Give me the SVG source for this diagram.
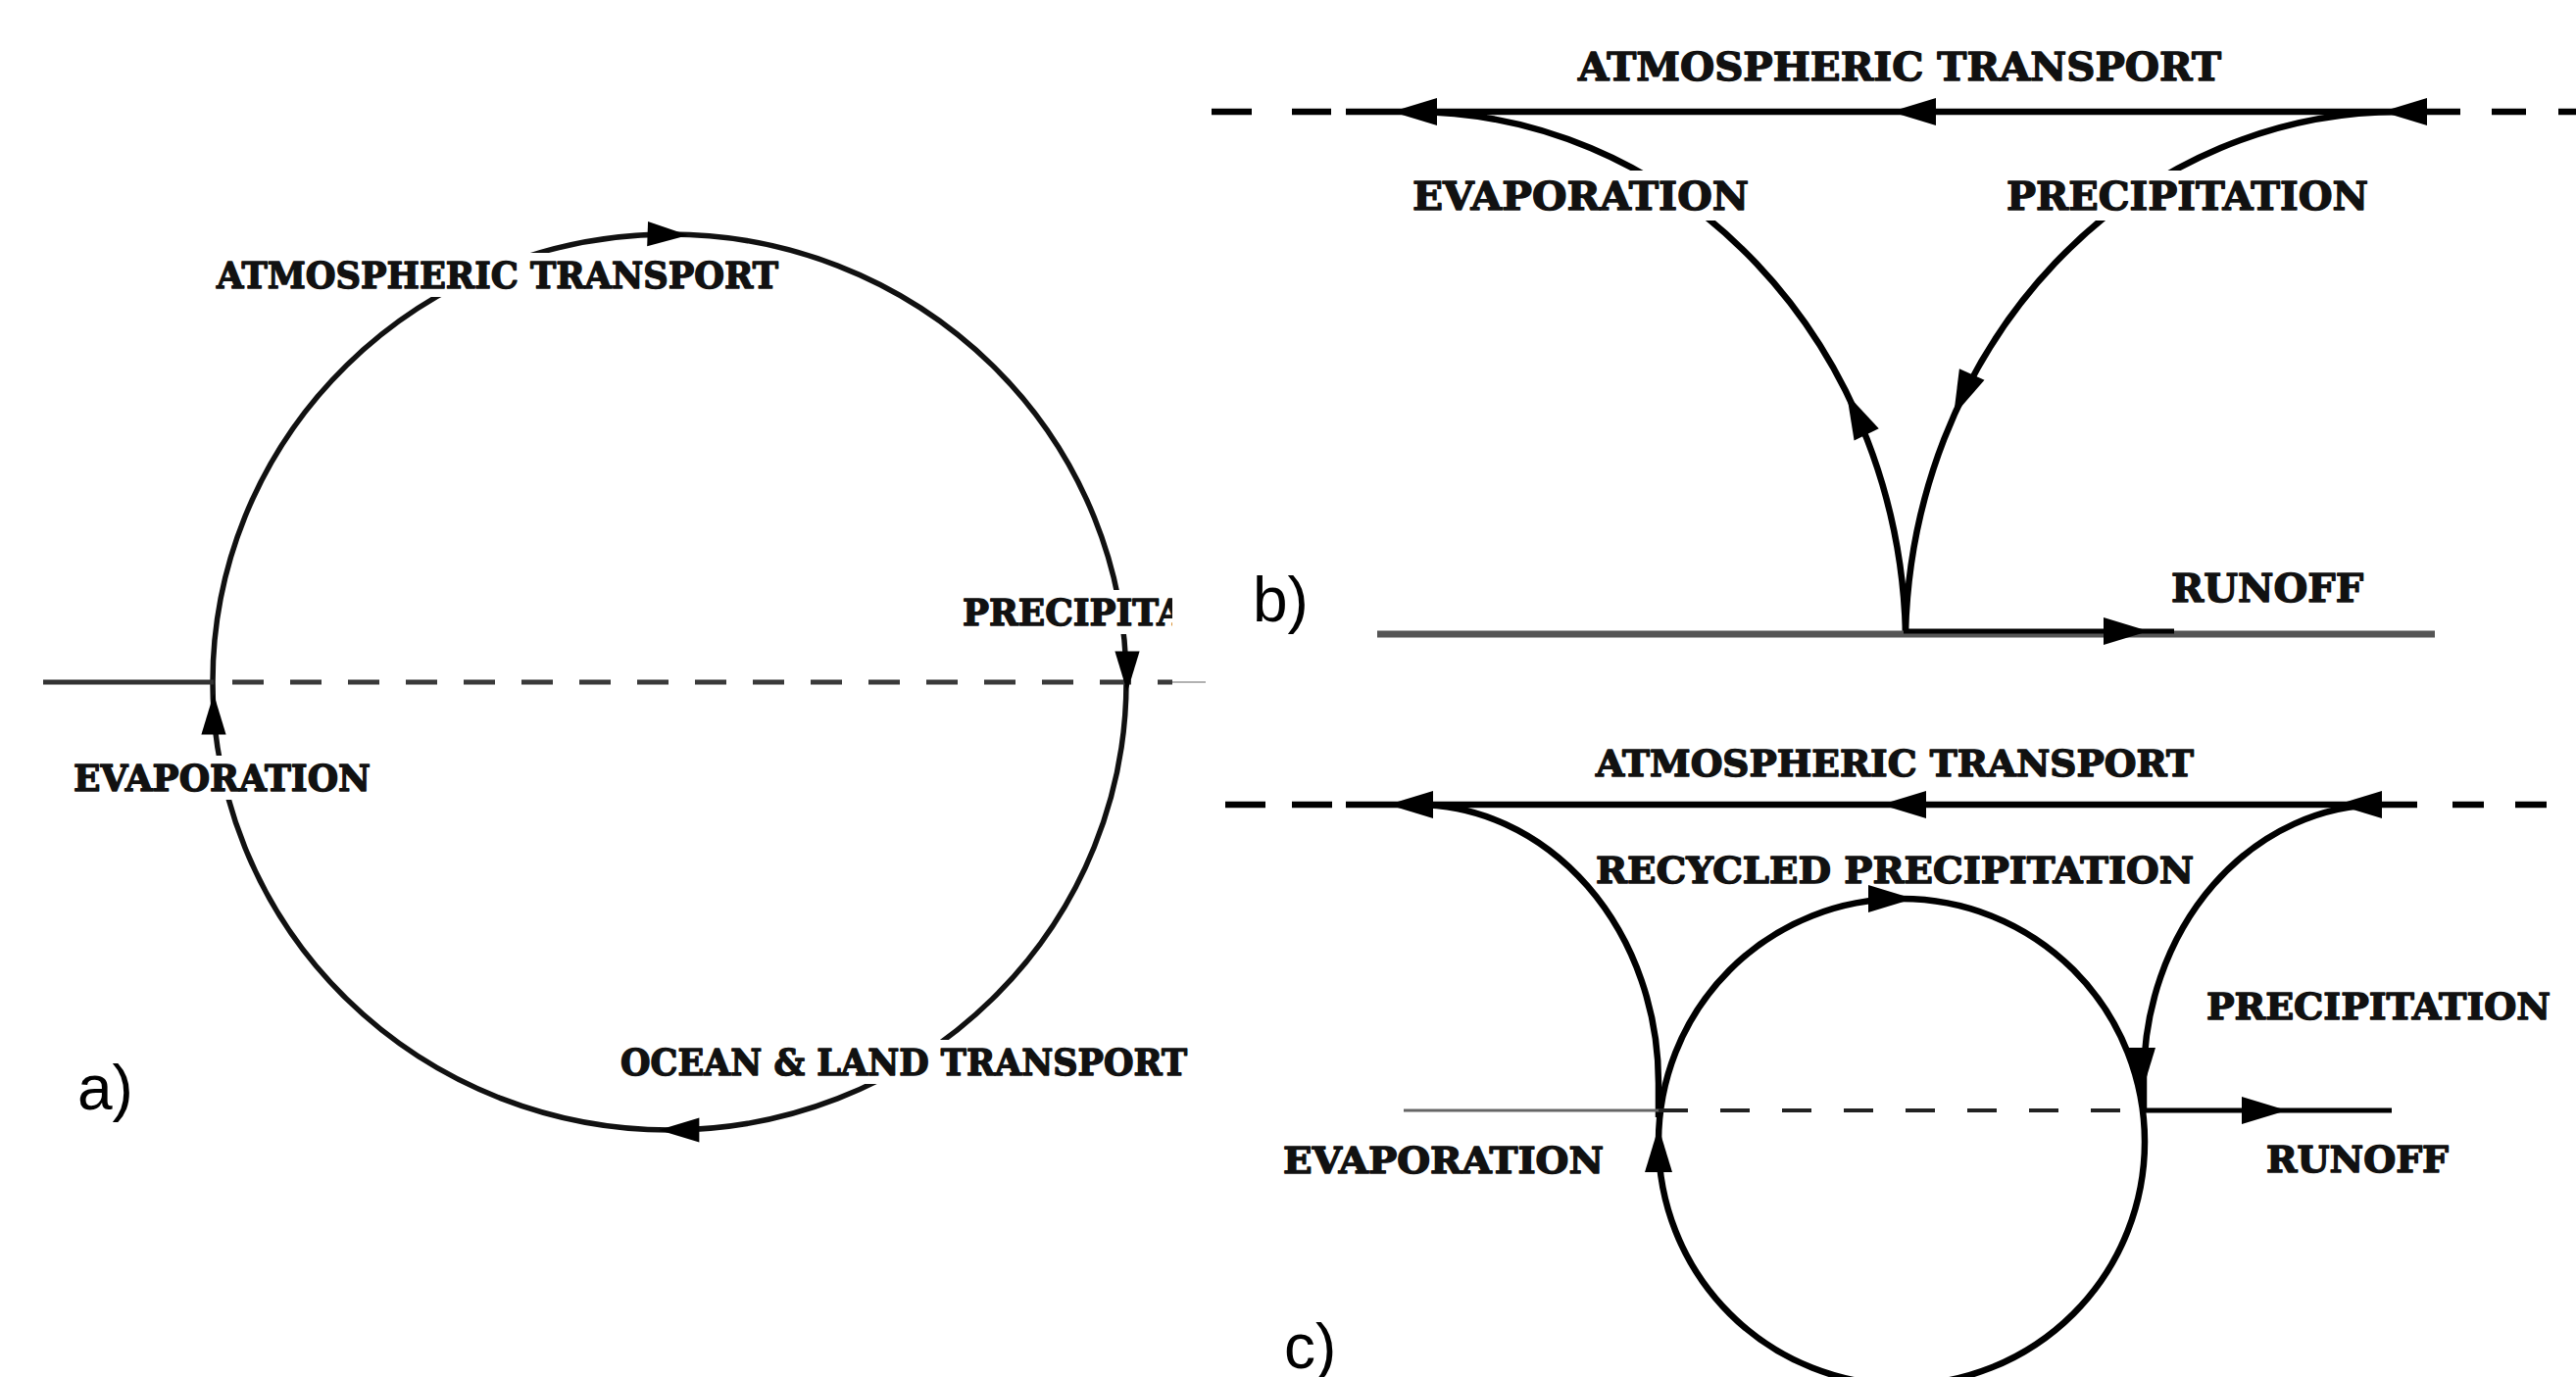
<svg xmlns="http://www.w3.org/2000/svg" width="2628" height="1405" viewBox="0 0 2628 1405">
<style>
.ln{fill:none;stroke:#000;stroke-width:6.5}
.la{fill:none;stroke:#111;stroke-width:5.5}
.t{font-family:"DejaVu Serif","Liberation Serif",serif;font-weight:bold;fill:#111;stroke:#111;stroke-width:1.4;stroke-linejoin:round}
.ta{font-size:37px}
.tb{font-size:40px}
.tc{font-size:37px}
.bg{fill:#fff;stroke:none}
.pl{font-family:"Liberation Sans",Arial,sans-serif;font-size:64px;fill:#000}
</style>
<defs>
<path id="ah" d="M0,0 L-46,-14 L-46,14 Z" fill="#000"/>
<clipPath id="clipA"><rect x="0" y="0" width="1196" height="1405"/></clipPath>
</defs>
<rect width="2628" height="1405" fill="#fff"/>
<g id="connectors">
  <g id="panel-a-lines">
    <ellipse class="la" cx="683" cy="696" rx="466" ry="457"/>
    <line x1="44" y1="696" x2="218" y2="696" stroke="#333" stroke-width="5"/>
    <line x1="237" y1="696" x2="1196" y2="696" stroke="#3a3a3a" stroke-width="5" stroke-dasharray="32 27"/>
    <line x1="1196" y1="696" x2="1230" y2="696" stroke="#999" stroke-width="1.5"/>
    <use href="#ah" transform="translate(702,240) rotate(2) scale(0.9)"/>
    <use href="#ah" transform="translate(1150,706) rotate(90) scale(0.9)"/>
    <use href="#ah" transform="translate(218,708) rotate(-90) scale(0.9)"/>
    <use href="#ah" transform="translate(672,1153) rotate(180) scale(0.9)"/>
  </g>
  <g id="panel-b-lines">
    <line class="ln" x1="1373" y1="114" x2="2510" y2="114"/>
    <line class="ln" x1="1236" y1="114" x2="1277" y2="114"/>
    <line class="ln" x1="1318" y1="114" x2="1358" y2="114"/>
    <line class="ln" x1="2542" y1="114" x2="2577" y2="114"/>
    <line class="ln" x1="2610" y1="114" x2="2628" y2="114"/>
    <path class="ln" d="M1944,645 A504,546 0 0 0 1440,114"/>
    <path class="ln" d="M1944,645 A504,546 0 0 1 2448,114"/>
    <line x1="1405" y1="647" x2="2484" y2="647" stroke="#555" stroke-width="7"/>
    <line x1="1942" y1="644" x2="2218" y2="644" stroke="#000" stroke-width="5"/>
    <use href="#ah" transform="translate(1420,114) rotate(180)"/>
    <use href="#ah" transform="translate(1929,114) rotate(180)"/>
    <use href="#ah" transform="translate(2430,114) rotate(180)"/>
    <use href="#ah" transform="translate(1884,402) rotate(-116)"/>
    <use href="#ah" transform="translate(1993,424) rotate(114)"/>
    <use href="#ah" transform="translate(2192,644)"/>
  </g>
  <g id="panel-c-lines">
    <line class="ln" x1="1373" y1="821" x2="2466" y2="821"/>
    <line class="ln" x1="1250" y1="821" x2="1291" y2="821"/>
    <line class="ln" x1="1318" y1="821" x2="1359" y2="821"/>
    <line class="ln" x1="2502" y1="821" x2="2534" y2="821"/>
    <line class="ln" x1="2566" y1="821" x2="2598" y2="821"/>
    <path class="ln" d="M1692,1140 L1692,1105 A247,284 0 0 0 1445,821"/>
    <path class="ln" d="M2187,1135 L2187,1100 A243,279 0 0 1 2430,821"/>
    <circle class="ln" cx="1940" cy="1165" r="248"/>
    <line x1="1432" y1="1133" x2="1692" y2="1133" stroke="#666" stroke-width="3"/>
    <line x1="1692" y1="1133" x2="2163" y2="1133" stroke="#222" stroke-width="4" stroke-dasharray="30 33"/>
    <line x1="2187" y1="1133" x2="2440" y2="1133" stroke="#000" stroke-width="5"/>
    <use href="#ah" transform="translate(1416,821) rotate(180)"/>
    <use href="#ah" transform="translate(1919,821) rotate(180)"/>
    <use href="#ah" transform="translate(2384,821) rotate(180)"/>
    <use href="#ah" transform="translate(1952,917)"/>
    <use href="#ah" transform="translate(1692,1150) rotate(-90)"/>
    <use href="#ah" transform="translate(2185,1115) rotate(90)"/>
    <use href="#ah" transform="translate(2333,1133)"/>
  </g>
</g>
<g id="labels-a">
  <g id="a-atm"><rect class="bg" x="213" y="258" width="589" height="45"/><text class="t ta" x="221" y="294" textLength="573" lengthAdjust="spacingAndGlyphs">ATMOSPHERIC TRANSPORT</text></g>
  <g id="a-prec" clip-path="url(#clipA)"><rect class="bg" x="974" y="602" width="222" height="45"/><text class="t ta" x="982" y="638" textLength="226" lengthAdjust="spacingAndGlyphs">PRECIPITA</text></g>
  <g id="a-evap"><rect class="bg" x="67" y="771" width="319" height="45"/><text class="t ta" x="75" y="807" textLength="303" lengthAdjust="spacingAndGlyphs">EVAPORATION</text></g>
  <g id="a-ocean"><rect class="bg" x="625" y="1061" width="594" height="45"/><text class="t ta" x="633" y="1097" textLength="578" lengthAdjust="spacingAndGlyphs">OCEAN &amp; LAND TRANSPORT</text></g>
  <g id="a-label"><text class="pl" x="79" y="1132">a)</text></g>
</g>
<g id="labels-b">
  <g id="b-atm"><text class="t tb" x="1610" y="82" textLength="656" lengthAdjust="spacingAndGlyphs">ATMOSPHERIC TRANSPORT</text></g>
  <g id="b-evap"><rect class="bg" x="1431" y="174" width="363" height="51"/><text class="t tb" x="1441" y="214" textLength="343" lengthAdjust="spacingAndGlyphs">EVAPORATION</text></g>
  <g id="b-prec"><rect class="bg" x="2037" y="174" width="389" height="51"/><text class="t tb" x="2047" y="214" textLength="369" lengthAdjust="spacingAndGlyphs">PRECIPITATION</text></g>
  <g id="b-runoff"><text class="t tb" x="2215" y="614" textLength="196" lengthAdjust="spacingAndGlyphs">RUNOFF</text></g>
  <g id="b-label"><text class="pl" x="1278" y="634">b)</text></g>
</g>
<g id="labels-c">
  <g id="c-atm"><text class="t tc" x="1628" y="792" textLength="610" lengthAdjust="spacingAndGlyphs">ATMOSPHERIC TRANSPORT</text></g>
  <g id="c-recycled"><text class="t tc" x="1628" y="901" textLength="610" lengthAdjust="spacingAndGlyphs">RECYCLED PRECIPITATION</text></g>
  <g id="c-prec"><text class="t tc" x="2251" y="1040" textLength="351" lengthAdjust="spacingAndGlyphs">PRECIPITATION</text></g>
  <g id="c-evap"><text class="t tc" x="1309" y="1197" textLength="327" lengthAdjust="spacingAndGlyphs">EVAPORATION</text></g>
  <g id="c-runoff"><text class="t tc" x="2312" y="1196" textLength="186" lengthAdjust="spacingAndGlyphs">RUNOFF</text></g>
  <g id="c-label"><text class="pl" x="1310" y="1396">c)</text></g>
</g>
</svg>
